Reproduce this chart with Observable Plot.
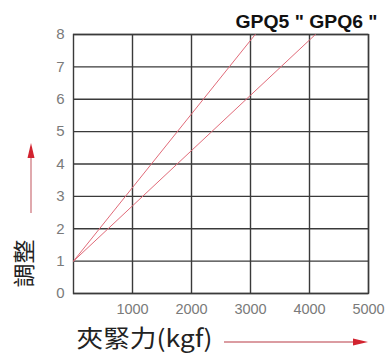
<!DOCTYPE html>
<html>
<head>
<meta charset="utf-8">
<script src="https://cdn.jsdelivr.net/npm/d3@7"></script>
<script src="https://cdn.jsdelivr.net/npm/@observablehq/plot@0.6"></script>
<style>
  html, body { margin: 0; padding: 0; background: #fff; }
  #chart { position: relative; width: 392px; height: 356px; }
</style>
</head>
<body>
<div id="chart"></div>
<script>
// Data
const seriesNames = ["GPQ5", "GPQ6"];
const gpq5Force = [0, 3080];
const gpq5Adjust = [1, 8];
const gpq6Force = [0, 4100];
const gpq6Adjust = [1, 8];
const xTicks = [1000, 2000, 3000, 4000, 5000];
const yTicks = [0, 1, 2, 3, 4, 5, 6, 7, 8];
const titleText = 'GPQ5 " GPQ6 "';
const xLabel = "夾緊力(kgf)";
const yLabel = "調整";

const rows = [];
gpq5Force.forEach((f, i) => rows.push({series: seriesNames[0], force: f, adjust: gpq5Adjust[i]}));
gpq6Force.forEach((f, i) => rows.push({series: seriesNames[1], force: f, adjust: gpq6Adjust[i]}));

const W = 392, H = 356;
const mL = 73, mR = 24, mT = 34, mB = 63;

const plot = Plot.plot({
  width: W,
  height: H,
  marginLeft: mL,
  marginRight: mR,
  marginTop: mT,
  marginBottom: mB,
  style: {fontFamily: "'Liberation Sans', Arial, sans-serif", fontSize: "14px", background: "#fff"},
  x: {domain: [0, 5000], ticks: xTicks, label: null, tickFormat: d3.format("d")},
  y: {domain: [0, 8], ticks: yTicks, label: null},
  marks: [
    Plot.gridX(xTicks, {stroke: "#3a3a3a", strokeOpacity: 1, strokeWidth: 1.4}),
    Plot.gridY(yTicks, {stroke: "#3a3a3a", strokeOpacity: 1, strokeWidth: 1.4}),
    Plot.frame({stroke: "#3a3a3a", strokeWidth: 1.4}),
    Plot.line(rows, {x: "force", y: "adjust", z: "series", stroke: "#e06a78", strokeWidth: 1, clip: true}),
    Plot.axisX(xTicks, {tickSize: 0, tickPadding: 10, fill: "#7a7a7a", fontSize: 14.5, tickFormat: d3.format("d")}),
    Plot.axisY(yTicks, {tickSize: 0, tickPadding: 9, fill: "#7a7a7a", fontSize: 15}),
    Plot.text([titleText], {frameAnchor: "top-right", dy: -13, dx: 9, text: d => d, fontSize: 19, fontWeight: "bold", fill: "#111", lineAnchor: "middle", textAnchor: "end"}),
    Plot.text([xLabel], {frameAnchor: "bottom-left", dy: 46, dx: 3, text: d => d, fontSize: 24, fill: "#222", textAnchor: "start", lineAnchor: "middle", fontFamily: "'Noto Sans CJK TC', sans-serif"}),
    Plot.text([yLabel], {frameAnchor: "bottom-left", dx: -49, dy: -30, text: d => d, fontSize: 22, fill: "#222", rotate: -90, textAnchor: "middle", lineAnchor: "middle", fontFamily: "'Noto Sans CJK TC', sans-serif"})
  ]
});

const svg = d3.select(plot);
// decorative arrows
function arrow(x1, y1, x2, y2) {
  const ang = Math.atan2(y2 - y1, x2 - x1);
  const hl = 15, hw = 3.5;
  const bx = x2 - hl * Math.cos(ang), by = y2 - hl * Math.sin(ang);
  svg.append("line").attr("x1", x1).attr("y1", y1).attr("x2", bx).attr("y2", by)
    .attr("stroke", "#cf7b82").attr("stroke-width", 1.3);
  const px = -Math.sin(ang) * hw, py = Math.cos(ang) * hw;
  svg.append("path")
    .attr("d", `M${x2},${y2}L${bx + px},${by + py}L${bx - px},${by - py}Z`)
    .attr("fill", "#d2232f");
}
arrow(31, 213, 31, 143);
arrow(224, 342, 368, 342);

// stretch texts to match reference widths
function stretch(str, len) {
  svg.selectAll("text").filter(function() { return this.textContent === str; })
    .attr("textLength", len).attr("lengthAdjust", "spacingAndGlyphs");
}
stretch(xLabel, 136);
stretch(yLabel, 48);
stretch(titleText, 142);

document.getElementById("chart").appendChild(plot);
</script>
</body>
</html>
